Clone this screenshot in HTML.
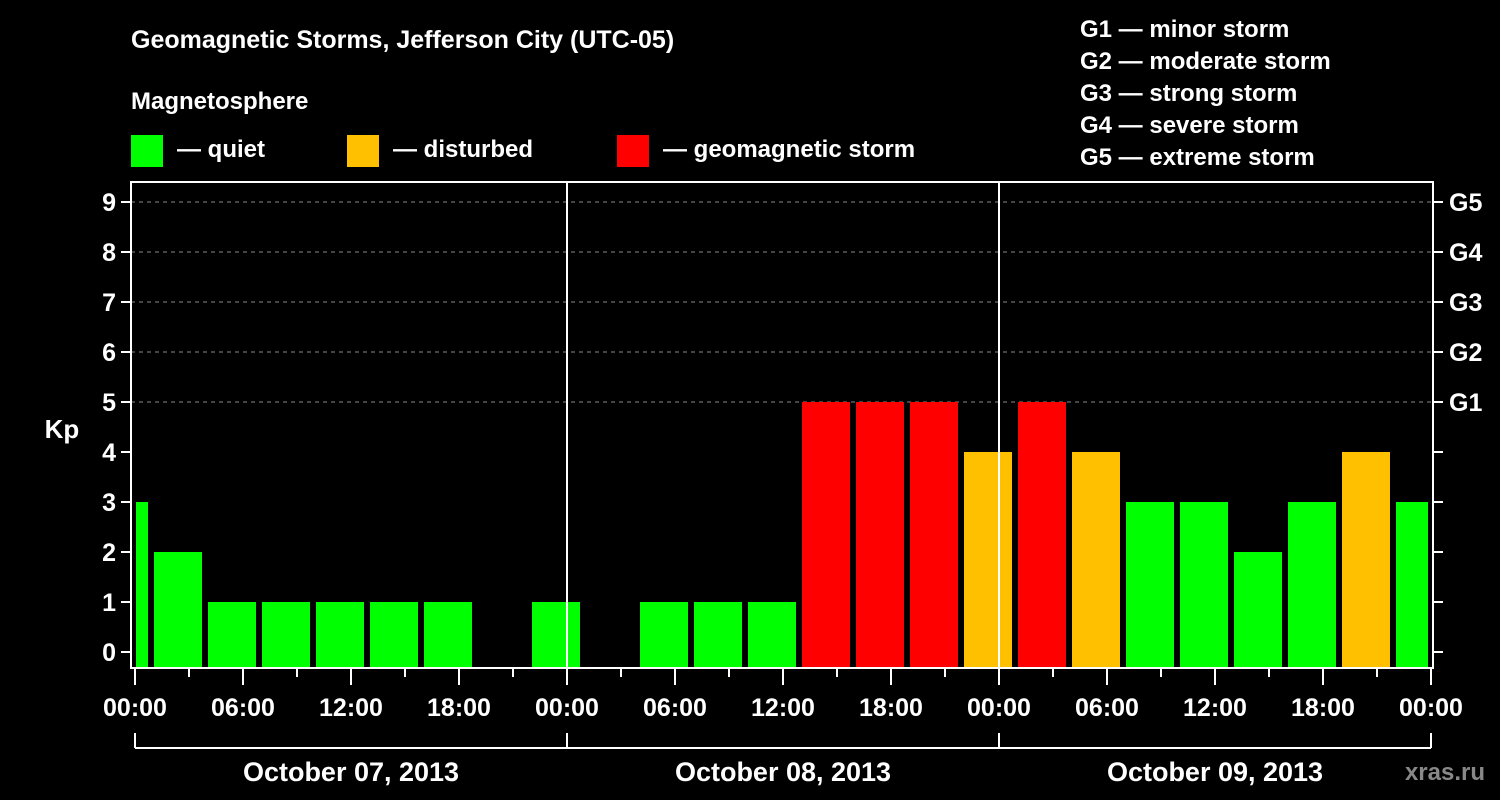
<!DOCTYPE html>
<html><head><meta charset="utf-8"><style>
body{margin:0;background:#000;}
svg{display:block;font-family:"Liberation Sans",Arial,sans-serif;font-weight:bold;}
</style></head><body>
<svg id="chart" width="1500" height="800" viewBox="0 0 1500 800">
<rect width="1500" height="800" fill="#000"/>
<text x="131" y="48" fill="#fff" font-size="25">Geomagnetic Storms, Jefferson City (UTC-05)</text>
<text x="131" y="109" fill="#fff" font-size="24">Magnetosphere</text>
<g><rect x="131" y="135" width="32" height="32" fill="#00ff00"/><text x="177" y="157" fill="#fff" font-size="24">— quiet</text></g>
<g><rect x="347" y="135" width="32" height="32" fill="#ffc000"/><text x="393" y="157" fill="#fff" font-size="24">— disturbed</text></g>
<g><rect x="617" y="135" width="32" height="32" fill="#ff0000"/><text x="663" y="157" fill="#fff" font-size="24">— geomagnetic storm</text></g>
<g fill="#fff" font-size="24">
<text x="1080" y="37">G1 — minor storm</text>
<text x="1080" y="69">G2 — moderate storm</text>
<text x="1080" y="101">G3 — strong storm</text>
<text x="1080" y="133">G4 — severe storm</text>
<text x="1080" y="165">G5 — extreme storm</text>
</g>
<text x="62" y="438" fill="#fff" font-size="26" text-anchor="middle">Kp</text>
<text x="1485" y="780" fill="#888" font-size="24" text-anchor="end">xras.ru</text>
<g id="grid"></g><g id="bars"></g><g id="axes"></g>
</svg>
<script>
const kpValues=[3,2,1,1,1,1,1,null,1, null,1,1,1,5,5,5,4, 5,4,3,3,2,3,4,3];
const yTicks=[0,1,2,3,4,5,6,7,8,9];
const gLabels=["G1","G2","G3","G4","G5"];
const hourLabels=["00:00","06:00","12:00","18:00"];
const dayLabels=["October 07, 2013","October 08, 2013","October 09, 2013"];
const firstStartHour=-2;
const NS="http://www.w3.org/2000/svg";
const X0=135,PXH=18,L=131,R=1433,T=182,B=668;
const x=h=>X0+h*PXH;
const y=v=>652-v*50;
function mk(tag,attrs,parent){const e=document.createElementNS(NS,tag);for(const k in attrs)e.setAttribute(k,attrs[k]);parent.appendChild(e);return e;}
const grid=document.getElementById('grid'),bars=document.getElementById('bars'),axes=document.getElementById('axes');
yTicks.forEach(v=>{if(v>=5){const g=mk('line',{x1:L,x2:R,y1:y(v),y2:y(v),stroke:'#888','stroke-dasharray':'4,4','stroke-width':1},grid);

}});
kpValues.forEach((v,i)=>{if(v===null)return;
let s=x(firstStartHour+i*3)+1,e=x(firstStartHour+i*3+3)-5;
s=Math.max(s,X0+1);e=Math.min(e,R-5);
const c=v>=5?'#ff0000':(v>=4?'#ffc000':'#00ff00');
const r=mk('rect',{x:s,y:y(v),width:e-s,height:B-1-y(v),fill:c},bars);

});
mk('rect',{x:L,y:T,width:R-L,height:B-T,fill:'none',stroke:'#fff','stroke-width':2},axes);
yTicks.forEach(v=>{
mk('line',{x1:121,x2:L,y1:y(v),y2:y(v),stroke:'#fff','stroke-width':2},axes);
mk('line',{x1:R,x2:1443,y1:y(v),y2:y(v),stroke:'#fff','stroke-width':2},axes);
const t=mk('text',{x:116,y:y(v)+9,fill:'#fff','font-size':25,'text-anchor':'end'},axes);t.textContent=v;

});
gLabels.forEach((g,i)=>{const t=mk('text',{x:1449,y:y(i+5)+9,fill:'#fff','font-size':25},axes);t.textContent=g;

});
for(let h=0;h<=72;h+=3){const major=h%6===0;
mk('line',{x1:x(h),x2:x(h),y1:B,y2:major?B+17:B+9,stroke:'#fff','stroke-width':2},axes);
if(major&&h%24===0||h%6===0){const t=mk('text',{x:x(h),y:716,fill:'#fff','font-size':25,'text-anchor':'middle'},axes);t.textContent=hourLabels[(h%24)/6];

}}
[24,48].forEach(h=>mk('line',{x1:x(h),x2:x(h),y1:T,y2:B,stroke:'#fff','stroke-width':2},axes));
mk('line',{x1:x(0),x2:x(72),y1:748,y2:748,stroke:'#fff','stroke-width':2},axes);
[0,24,48,72].forEach(h=>mk('line',{x1:x(h),x2:x(h),y1:733,y2:748,stroke:'#fff','stroke-width':2},axes));
dayLabels.forEach((d,i)=>{const t=mk('text',{x:x(i*24+12),y:781,fill:'#fff','font-size':27,'text-anchor':'middle'},axes);t.textContent=d;

});
</script>
</body></html>
